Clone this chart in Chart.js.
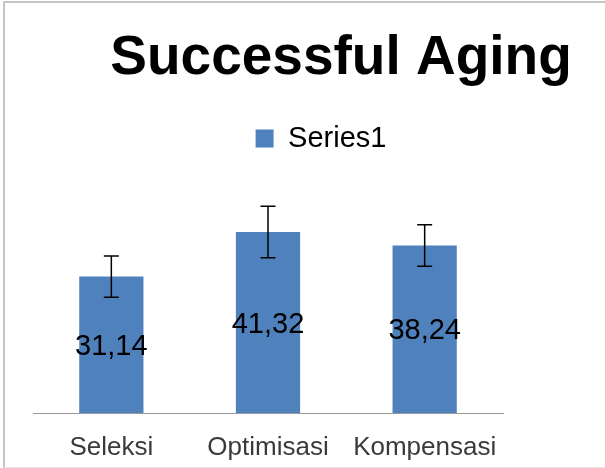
<!DOCTYPE html>
<html>
<head>
<meta charset="utf-8">
<script src="https://cdn.jsdelivr.net/npm/chart.js@4"></script>
<style>
  body { margin: 0; background: #fff; }
  #wrap { position: relative; width: 605px; height: 468px; overflow: hidden; }
  #frame {
    position: absolute; left: 3px; top: 1px; right: -10px; bottom: 0;
    border-top: 2px solid #c6c6c6; border-left: 2px solid #c6c6c6;
    border-bottom: 1px solid #e4e4e4; pointer-events: none;
  }
</style>
</head>
<body>
<div id="wrap">
  <canvas id="grafik" width="605" height="468"></canvas>
  <div id="frame"></div>
</div>
<script>
var categories = ['Seleksi', 'Optimisasi', 'Kompensasi'];
var values = [31.14, 41.32, 38.24];
var errors = [4.7, 5.9, 4.75];
var seriesName = 'Series1';
var chartTitle = 'Successful Aging';

var fontFam = '"Liberation Sans", Arial, sans-serif';

// error bars + value labels in the middle of each bar
var barExtras = {
    id: 'barExtras',
    afterDatasetsDraw: function (chart) {
        var ctx = chart.ctx;
        var yScale = chart.scales.y;
        var meta = chart.getDatasetMeta(0);
        ctx.save();
        meta.data.forEach(function (bar, i) {
            var top = yScale.getPixelForValue(values[i] + errors[i]);
            var bot = yScale.getPixelForValue(values[i] - errors[i]);
            ctx.strokeStyle = '#000';
            ctx.lineWidth = 1.5;
            ctx.beginPath();
            ctx.moveTo(bar.x, top); ctx.lineTo(bar.x, bot);
            ctx.moveTo(bar.x - 7.5, top); ctx.lineTo(bar.x + 7.5, top);
            ctx.moveTo(bar.x - 7.5, bot); ctx.lineTo(bar.x + 7.5, bot);
            ctx.stroke();

            ctx.font = '29px ' + fontFam;
            ctx.fillStyle = '#000';
            ctx.textAlign = 'center';
            ctx.textBaseline = 'middle';
            ctx.fillText(values[i].toFixed(2).replace('.', ','), bar.x, (bar.y + bar.base) / 2 + 2);
        });
        ctx.restore();
    }
};

// Excel places title and legend off the plot centre; nudge them over
var placeBoxes = {
    id: 'placeBoxes',
    afterInit: function (chart) {
        var legend = chart.legend;
        var origFit = legend.fit;
        legend.fit = function () {
            origFit.call(this);
            this.height += 31;
        };
    },
    afterLayout: function (chart) {
        var t = chart.titleBlock;
        var dt = 341 - (t.left + t.right) / 2;
        t.left += dt; t.right += dt;
        var l = chart.legend;
        var dl = 321 - (l.left + l.right) / 2;
        l.left += dl; l.right += dl;
    }
};

var ctx = document.getElementById('grafik').getContext('2d');
var grafik = new Chart(ctx, {
    type: 'bar',
    data: {
        labels: categories,
        datasets: [{
            label: seriesName,
            data: values,
            backgroundColor: '#4f81bd',
            borderWidth: 0,
            barPercentage: 0.41,
            categoryPercentage: 1
        }]
    },
    options: {
        responsive: false,
        animation: false,
        layout: { padding: { left: 33, right: 102, top: 0, bottom: 7 } },
        plugins: {
            title: {
                display: true,
                text: chartTitle,
                color: '#000',
                font: { family: fontFam, size: 55, weight: 'bold', lineHeight: 1.2 },
                padding: { top: 26, bottom: 22 }
            },
            legend: {
                display: true,
                labels: {
                    color: '#000',
                    boxWidth: 18,
                    boxHeight: 18,
                    padding: 10,
                    font: { family: fontFam, size: 29 }
                }
            },
            tooltip: { enabled: false }
        },
        scales: {
            x: {
                grid: { display: false, drawTicks: false },
                border: { display: true, color: '#9a9a9a', width: 1 },
                ticks: {
                    color: '#3a3a3a',
                    padding: 19,
                    font: { family: fontFam, size: 26, lineHeight: 1.2 }
                },
                afterFit: function (scale) {
                    scale.height = 48;
                }
            },
            y: {
                display: false,
                beginAtZero: true,
                min: 0,
                max: 50
            }
        }
    },
    plugins: [barExtras, placeBoxes]
});
</script>
</body>
</html>
